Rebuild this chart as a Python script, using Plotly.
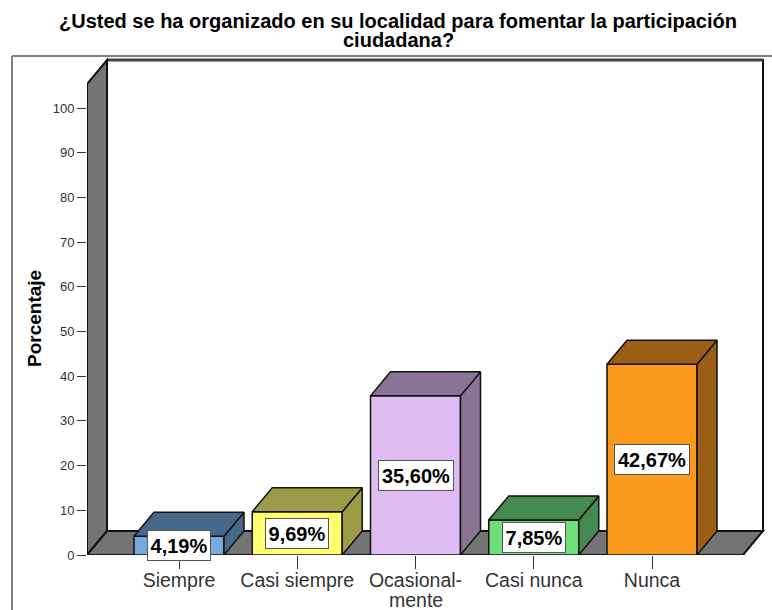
import plotly.graph_objects as go

categories = ["Siempre", "Casi siempre", "Ocasional-", "Casi nunca", "Nunca"]
category_second_line = "mente"
values = [4.19, 9.69, 35.60, 7.85, 42.67]
labels = ["4,19%", "9,69%", "35,60%", "7,85%", "42,67%"]
front_colors = ["#78A9DC", "#FFFF70", "#DFBDF3", "#70DC7A", "#FC9A1D"]
dark_colors = ["#48688A", "#9C9C48", "#8A7394", "#468A52", "#9A5E14"]
y_ticks = list(range(0, 101, 10))
title_lines = ["¿Usted se ha organizado en su localidad para fomentar la participación", "ciudadana?"]

W, H = 772, 610
PX_X0, PX_Y0, PX_TOP = 87, 555, 50
STEP, CENTER0, PY = 118.25, 179, 4.47
DX, DY = 20 / STEP, 24 / PY
BAR_W = 90 / STEP
xmin = (PX_X0 - CENTER0) / STEP
xmax = (W - CENTER0) / STEP
xfloor = (743 - CENTER0) / STEP
ymax = (PX_Y0 - PX_TOP) / PY
GRAY = "#747474"
INK = "#111111"
FONT = "Liberation Sans"

fig = go.Figure()
xs = list(range(len(values)))
fig.add_trace(go.Bar(x=xs, y=values, width=BAR_W, marker=dict(color=front_colors, line=dict(color=INK, width=1.5)), hoverinfo="skip"))

for i, v in enumerate(values):
    l, r = i - BAR_W / 2, i + BAR_W / 2
    fig.add_trace(go.Scatter(x=[r, r + DX, r + DX, r, r], y=[0, DY, v + DY, v, 0], fill="toself", fillcolor=dark_colors[i],
                             mode="lines", line=dict(color=INK, width=1.5), hoverinfo="skip"))
    fig.add_trace(go.Scatter(x=[l, l + DX, r + DX, r, l], y=[v, v + DY, v + DY, v, v], fill="toself", fillcolor=dark_colors[i],
                             mode="lines", line=dict(color=INK, width=1.5), hoverinfo="skip"))
    fig.add_annotation(x=i, y=v / 2, text=f"<b>{labels[i]}</b>", showarrow=False, bgcolor="white", bordercolor="#555555", borderwidth=1,
                       width=(60 if v < 10 else 72), height=27, font=dict(family=FONT, size=20, color="#000000"))

line = dict(color=INK, width=2)
shapes = [
    dict(type="rect", xref="x", yref="y", x0=xmin + DX, x1=xfloor + DX, y0=DY, y1=ymax - 10 / PY, fillcolor="white", line=line, layer="below"),
    dict(type="line", xref="x", yref="y", x0=xmin + DX, x1=xfloor + DX, y0=ymax - 10 / PY, y1=ymax - 10 / PY, line=dict(color="#444444", width=3), layer="below"),
    dict(type="path", xref="x", yref="y", layer="below", fillcolor=GRAY, line=line,
         path=f"M{xmin},0 L{xmin + DX},{DY} L{xmin + DX},{ymax - 10 / PY} L{xmin},{ymax - 10 / PY - DY} Z"),
    dict(type="path", xref="x", yref="y", layer="below", fillcolor=GRAY, line=line,
         path=f"M{xmin},0 L{xmin + DX},{DY} L{xfloor + DX},{DY} L{xfloor},0 Z"),
    dict(type="line", xref="paper", yref="paper", x0=12 / W, x1=12 / W, y0=0, y1=1 - 56 / H, line=dict(color="#808080", width=2), layer="below"),
    dict(type="line", xref="paper", yref="paper", x0=12 / W, x1=1, y0=1 - 56 / H, y1=1 - 56 / H, line=dict(color="#808080", width=2), layer="below"),
]

for text, py in zip(title_lines, [21, 40]):
    fig.add_annotation(xref="paper", yref="paper", x=398 / W, y=1 - py / H, text=f"<b>{text}</b>", showarrow=False,
                       font=dict(family=FONT, size=20, color="#000000"), xanchor="center", yanchor="middle", borderpad=0)
fig.add_annotation(xref="paper", yref="paper", x=34 / W, y=1 - 319 / H, text="<b>Porcentaje</b>", textangle=-90, showarrow=False,
                   xanchor="center", yanchor="middle", font=dict(family=FONT, size=19, color="#000000"))
fig.add_annotation(xref="x", yref="paper", x=categories.index("Ocasional-"), y=1 - 600 / H, text=category_second_line, showarrow=False,
                   xanchor="center", yanchor="middle", borderpad=0, font=dict(family=FONT, size=19.5, color="#333333"))

fig.update_layout(
    width=W, height=H, margin=dict(l=0, r=0, t=0, b=0), paper_bgcolor="white", plot_bgcolor="white",
    showlegend=False, shapes=shapes,
    xaxis=dict(domain=[PX_X0 / W, 1], range=[xmin, xmax], tickvals=xs, ticktext=categories, ticks="outside", ticklen=13, tickwidth=1,
               tickcolor="#333333", showgrid=False, zeroline=False, showline=False, automargin=False, ticklabelstandoff=-5,
               tickfont=dict(family=FONT, size=19.5, color="#333333")),
    yaxis=dict(domain=[(H - PX_Y0) / H, (H - PX_TOP) / H], range=[0, ymax], tickvals=y_ticks, ticks="outside", ticklen=9, tickwidth=1,
               tickcolor="#333333", showgrid=False, zeroline=False, showline=False, automargin=False,
               tickfont=dict(family=FONT, size=13, color="#333333")),
)

fig.write_html("out.html", config=dict(displayModeBar=False),
               post_script="document.body.style.margin='0';document.body.style.overflow='hidden';")
